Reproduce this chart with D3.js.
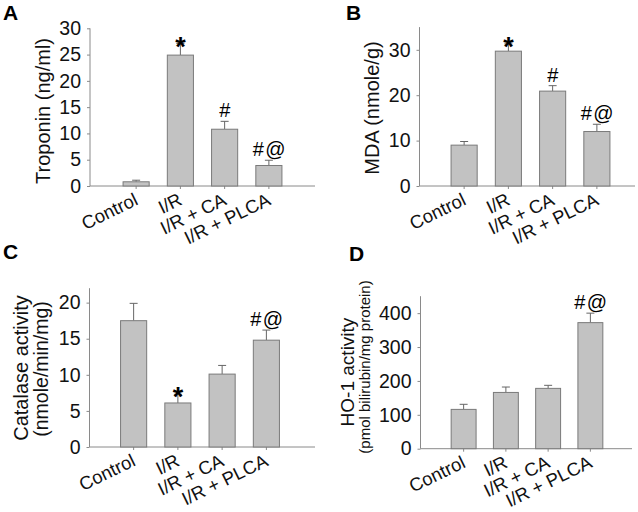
<!DOCTYPE html>
<html><head><meta charset="utf-8">
<script src="https://cdn.jsdelivr.net/npm/d3@7"></script>
<style>
body{margin:0;background:#fff;}
svg{display:block;font-family:"Liberation Sans",Arial,sans-serif;}
</style></head>
<body>
<svg id="chart" width="638" height="512"></svg>
<script>
const categories = ["Control", "I/R", "I/R + CA", "I/R + PLCA"];

const troponinMean = [0.8, 24.9, 10.8, 3.9];
const troponinErr  = [0.3, 2.2, 1.5, 1.0];
const troponinMarks = ["", "*", "#", "#@"];
const troponinTicks = [0, 5, 10, 15, 20, 25, 30];

const mdaMean = [9.0, 29.7, 20.9, 12.0];
const mdaErr  = [0.8, 1.6, 1.2, 1.6];
const mdaMarks = ["", "*", "#", "#@"];
const mdaTicks = [0, 10, 20, 30];

const catalaseMean = [17.5, 6.1, 10.1, 14.8];
const catalaseErr  = [2.4, 1.2, 1.2, 1.4];
const catalaseMarks = ["", "*", "", "#@"];
const catalaseTicks = [0, 5, 10, 15, 20];

const ho1Mean = [116, 166, 178, 372];
const ho1Err  = [15, 16, 9, 28];
const ho1Marks = ["", "", "", "#@"];
const ho1Ticks = [0, 100, 200, 300, 400];

const svg = d3.select("#chart");

const panels = [
  {letter:"A", lx:3, ly:20, mean:troponinMean, err:troponinErr, marks:troponinMarks, ticks:troponinTicks,
   ymax:30, axisX:90, axisEnd:315, y0:186, yTop:28.3, band:[114,291],
   titles:[{t:"Troponin (ng/ml)", x:43, y:111, s:20}]},
  {letter:"B", lx:346, ly:20, mean:mdaMean, err:mdaErr, marks:mdaMarks, ticks:mdaTicks,
   ymax:35, axisX:419.5, axisEnd:635, y0:186, yTop:27.1, band:[442,619],
   titles:[{t:"MDA (nmole/g)", x:372, y:108, s:20}]},
  {letter:"C", lx:3, ly:259, mean:catalaseMean, err:catalaseErr, marks:catalaseMarks, ticks:catalaseTicks,
   ymax:22, axisX:89.5, axisEnd:315, y0:447, yTop:288.2, band:[111.5,288.5],
   titles:[{t:"Catalase activity", x:21, y:368, s:20},{t:"(nmole/min/mg)", x:41, y:369, s:19.5}]},
  {letter:"D", lx:349, ly:261, mean:ho1Mean, err:ho1Err, marks:ho1Marks, ticks:ho1Ticks,
   ymax:450, axisX:420.5, axisEnd:632, y0:448.7, yTop:296.2, band:[442.5,611.5],
   titles:[{t:"HO-1 activity", x:347, y:372, s:19},{t:"(pmol bilirubin/mg protein)", x:364, y:367, s:15}]}
];

const axisColor = "#8a8a8a";

panels.forEach(p => {
  const g = svg.append("g");
  const x = d3.scaleBand().domain(categories).range(p.band).paddingInner(0.41).paddingOuter(0.205);
  const y = d3.scaleLinear().domain([0, p.ymax]).range([p.y0, p.yTop]);

  g.append("text").attr("x", p.lx).attr("y", p.ly).attr("font-size", 21).attr("font-weight", "bold")
    .attr("fill", "#000").text(p.letter);

  const yAxis = d3.axisLeft(y).tickValues(p.ticks).tickSize(3).tickPadding(6).tickFormat(d3.format("d"));
  const ya = g.append("g").attr("transform", `translate(${p.axisX},0)`).call(yAxis);
  ya.select(".domain").attr("stroke", axisColor).attr("d", `M0,${p.y0}V${p.yTop}`);
  ya.selectAll(".tick line").attr("stroke", axisColor);
  ya.selectAll(".tick text").attr("font-size", 19.5).attr("fill", "#111").attr("font-family", "Liberation Sans, Arial, sans-serif");

  g.append("line").attr("x1", p.axisX).attr("x2", p.axisEnd).attr("y1", p.y0).attr("y2", p.y0)
    .attr("stroke", axisColor).attr("stroke-width", 1);
  g.selectAll(".xt").data(categories).join("line")
    .attr("x1", d => x(d) + x.bandwidth()/2).attr("x2", d => x(d) + x.bandwidth()/2)
    .attr("y1", p.y0).attr("y2", p.y0 + 3).attr("stroke", axisColor);

  g.selectAll(".xl").data(categories).join("text")
    .attr("transform", d => `translate(${x(d) + x.bandwidth()/2 + 3},${p.y0 + 18}) rotate(-26)`)
    .attr("text-anchor", "end").attr("font-size", 18.5).attr("fill", "#111").text(d => d);

  const eb = g.selectAll(".eb").data(categories).join("g");
  eb.append("line")
    .attr("x1", (d,i) => x(d) + x.bandwidth()/2).attr("x2", (d,i) => x(d) + x.bandwidth()/2)
    .attr("y1", (d,i) => y(p.mean[i])).attr("y2", (d,i) => y(p.mean[i] + p.err[i]))
    .attr("stroke", "#666").attr("stroke-width", 1);
  eb.append("line")
    .attr("x1", (d,i) => x(d) + x.bandwidth()/2 - 4).attr("x2", (d,i) => x(d) + x.bandwidth()/2 + 4)
    .attr("y1", (d,i) => y(p.mean[i] + p.err[i])).attr("y2", (d,i) => y(p.mean[i] + p.err[i]))
    .attr("stroke", "#666").attr("stroke-width", 1);

  g.selectAll(".bar").data(categories).join("rect")
    .attr("x", d => x(d)).attr("width", x.bandwidth())
    .attr("y", (d,i) => y(p.mean[i])).attr("height", (d,i) => y(0) - y(p.mean[i]))
    .attr("fill", "#c2c2c2").attr("stroke", "#7a7a7a").attr("stroke-width", 1);

  g.selectAll(".mk").data(categories).join("text")
    .attr("x", d => x(d) + x.bandwidth()/2 + 1)
    .attr("y", (d,i) => y(p.mean[i] + p.err[i]) + (p.marks[i] === "*" ? 12 : -4))
    .attr("text-anchor", "middle")
    .attr("font-size", (d,i) => p.marks[i] === "*" ? 27 : 20)
    .attr("font-weight", (d,i) => p.marks[i] === "*" ? "bold" : "normal")
    .attr("letter-spacing", 1.5)
    .attr("fill", "#000")
    .text((d,i) => p.marks[i]);

  p.titles.forEach(tt => {
    g.append("text").attr("transform", `translate(${tt.x},${tt.y}) rotate(-90)`)
      .attr("text-anchor", "middle").attr("dominant-baseline", "central")
      .attr("font-size", tt.s).attr("fill", "#111").text(tt.t);
  });
});
</script>
</body></html>
